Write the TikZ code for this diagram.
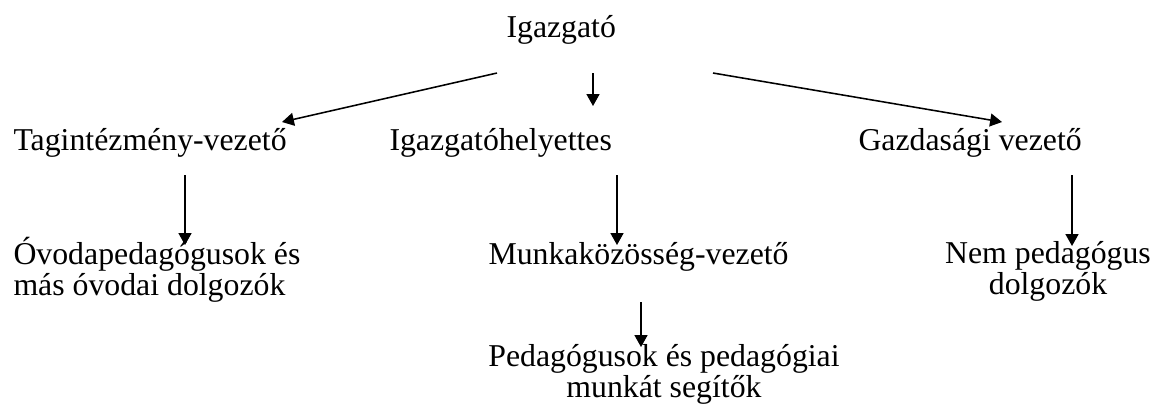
\documentclass[tikz,border=0pt]{standalone}
\usepackage{fontspec}
\setmainfont{Liberation Serif}
\usetikzlibrary{arrows.meta}

\begin{document}
\begin{tikzpicture}[x = 0.387pt, y = -0.387pt,
	every node/.style = {inner sep = 0pt, font = \fontsize{12.3}{12}\selectfont},
	arr/.style = {-{Triangle[length = 4.6pt, width = 5pt]}, line width = 0.6pt}]
	%	page
	\useasboundingbox (0, 0) rectangle (1163, 412);
	
	%	top
	\node[anchor = base west] (igazgato) at (506, 37) {Igazgató};
	
	%	second row
	\node[anchor = base west] (tagint) at (13, 150) {Tagintézmény-vezető};
	\node[anchor = base west] (helyettes) at (389, 150) {Igazgatóhelyettes};
	\node[anchor = base west] (gazdasagi) at (858, 150) {Gazdasági vezető};
	
	%	third row (base = last line)
	\node[anchor = base west, align = left] (ovoda) at (13, 295) {Óvodapedagógusok és\\más óvodai dolgozók};
	\node[anchor = base west] (munkakoz) at (488, 264) {Munkaközösség-vezető};
	\node[anchor = base, align = center] (nempedag) at (1048, 294) {Nem pedagógus\\dolgozók};
	
	%	bottom
	\node[anchor = base, align = center] (pedag) at (664, 397) {Pedagógusok és pedagógiai\\munkát segítők};
	
	%	arrow ends
	\coordinate (igL) at (497, 73);
	\coordinate (igM) at (593, 73);
	\coordinate (igR) at (713, 73);
	\coordinate (tagT) at (282, 122);
	\coordinate (helT) at (593, 106);
	\coordinate (gazT) at (1002, 122);
	\coordinate (tagB) at (185, 175);
	\coordinate (ovoT) at (185, 245);
	\coordinate (helB) at (617, 175);
	\coordinate (munT) at (617, 245);
	\coordinate (gazB) at (1072, 175);
	\coordinate (nemT) at (1072, 246);
	\coordinate (munB) at (641, 302);
	\coordinate (pedT) at (641, 347);
	
	%	arrows
	\draw[arr] (igL) -- (tagT);
	\draw[arr] (igM) -- (helT);
	\draw[arr] (igR) -- (gazT);
	\draw[arr] (tagB) -- (ovoT);
	\draw[arr] (helB) -- (munT);
	\draw[arr] (gazB) -- (nemT);
	\draw[arr] (munB) -- (pedT);
\end{tikzpicture}
\end{document}
